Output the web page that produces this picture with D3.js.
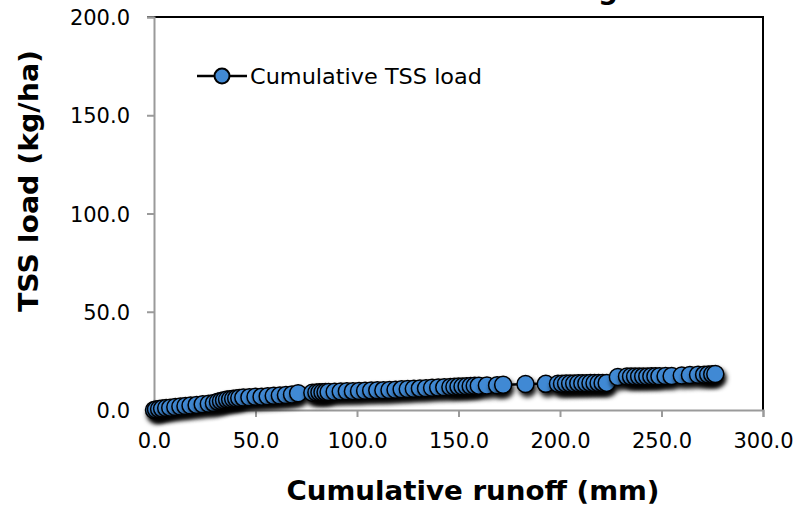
<!DOCTYPE html>
<html><head><meta charset="utf-8">
<script src="https://cdn.jsdelivr.net/npm/d3@7"></script>
<style>body{margin:0;background:#fff}svg{display:block}</style>
</head><body>
<script>
// Data: cumulative runoff (mm) and cumulative TSS load (kg/ha)
const runoff = [0,1,2.5,4,6,8,10.5,13,15.5,18,21,24,27,29.5,
  31.5,33,34.5,36,37.5,39,40.5,42,44,
  47,50,53,56,59,62,65,68,71,
  78,80,81.5,83,84.5,86,
  89,92,95,98,101,104,107,110,113,116,119,122,125,
  128,131,134,137,140,143,
  146,148,150,152,154,156,158,160,
  164,169,172,183,193,
  199,201,203,205,207,209,211,213,215,217,219,221,223,
  228.5,
  233,235,237,239,241,243,245,247,249,252,255,
  260,264,268,271,273,275,276.5];
const tssLoad = [0,0.3,0.5,0.7,1.0,1.2,1.5,1.8,2.0,2.3,2.6,2.9,3.2,3.5,
  4.2,4.6,5.0,5.3,5.5,5.7,5.9,6.1,6.3,
  6.5,6.7,6.8,7.0,7.2,7.4,7.6,7.9,8.5,
  8.8,8.9,9.0,9.0,9.1,9.2,
  9.3,9.4,9.5,9.6,9.7,9.8,9.9,10.0,10.1,10.2,10.3,10.5,10.7,
  10.8,11.0,11.1,11.3,11.4,11.6,
  11.7,11.8,11.9,12.0,12.1,12.2,12.3,12.4,
  12.5,12.6,12.8,13.2,13.3,
  13.4,13.4,13.5,13.5,13.5,13.6,13.6,13.6,13.7,13.7,13.7,13.8,13.8,
  16.8,
  17.0,17.0,17.0,17.1,17.1,17.1,17.2,17.2,17.2,17.3,17.3,
  17.6,17.8,17.9,18.0,18.1,18.2,18.3];
const xTicks = [0,50,100,150,200,250,300];
const yTicks = [0,50,100,150,200];
const seriesName = "Cumulative TSS load";
const titleText = "Cumulative TSS loading";
const xTitle = "Cumulative runoff (mm)";
const yTitle = "TSS load (kg/ha)";

const W = 797, H = 508;
const L = 154, R = 763, T = 17, B = 410;
const svg = d3.select("body").append("svg").attr("width", W).attr("height", H);
const defs = svg.append("defs");
const f = defs.append("filter").attr("id","sh").attr("x","-60%").attr("y","-60%").attr("width","220%").attr("height","220%");
f.append("feDropShadow").attr("dx",2).attr("dy",4).attr("stdDeviation",2.6).attr("flood-color","#000").attr("flood-opacity",0.95);

const x = d3.scaleLinear().domain([0,300]).range([L,R]);
const y = d3.scaleLinear().domain([0,200]).range([B,T]);
const font = "'DejaVu Sans', Verdana, sans-serif";
const fmt = d3.format(".1f");

// top and right border
svg.append("line").attr("x1",L-7).attr("x2",R+1).attr("y1",T).attr("y2",T).attr("stroke","#000").attr("stroke-width",2);
svg.append("line").attr("x1",R).attr("x2",R).attr("y1",T).attr("y2",B).attr("stroke","#000").attr("stroke-width",2);

// axes
const ya = svg.append("g").attr("transform",`translate(${L},0)`)
  .call(d3.axisLeft(y).tickValues(yTicks).tickFormat(fmt).tickSize(7).tickPadding(17));
const xa = svg.append("g").attr("transform",`translate(0,${B})`)
  .call(d3.axisBottom(x).tickValues(xTicks).tickFormat(fmt).tickSize(7).tickPadding(11));
[ya,xa].forEach(g=>{
  g.select(".domain").attr("stroke","#9a9a9a").attr("stroke-width",2);
  g.selectAll(".tick line").attr("stroke","#9a9a9a").attr("stroke-width",2);
  g.selectAll("text").attr("font-family",font).attr("font-size",21).attr("fill","#000");
});
ya.selectAll("text").attr("dy","0.36em");
xa.selectAll("text").attr("dy","0.95em");

// title (mostly cut off at the top, as in the reference)
svg.append("text").attr("x",618).attr("y",-1).attr("text-anchor","end")
  .attr("font-family",font).attr("font-weight","bold").attr("font-size",28).text(titleText);

// axis titles
svg.append("text").attr("x",473).attr("y",500).attr("text-anchor","middle")
  .attr("font-family",font).attr("font-weight","bold").attr("font-size",27)
  .attr("textLength",373).attr("lengthAdjust","spacingAndGlyphs").text(xTitle);
svg.append("text").attr("transform","translate(38,181) rotate(-90)").attr("text-anchor","middle")
  .attr("font-family",font).attr("font-weight","bold").attr("font-size",27)
  .attr("textLength",262).attr("lengthAdjust","spacingAndGlyphs").text(yTitle);

// series
const pts = runoff.map((r,i)=>[r,tssLoad[i]]);
const blue = "#4189d4";
svg.append("path").datum(pts).attr("fill","none").attr("stroke","#000").attr("stroke-width",2.5)
  .attr("d", d3.line().x(d=>x(d[0])).y(d=>y(d[1])));
svg.append("g").selectAll("circle").data(pts).join("circle")
  .attr("cx",d=>x(d[0])).attr("cy",d=>y(d[1])).attr("r",8.5)
  .attr("fill",blue).attr("stroke","#000").attr("stroke-width",1.5).attr("filter","url(#sh)");

// legend
const lg = svg.append("g");
lg.append("line").attr("x1",197).attr("x2",247).attr("y1",76).attr("y2",76).attr("stroke","#000").attr("stroke-width",2.5);
lg.append("circle").attr("cx",222).attr("cy",76).attr("r",7.5).attr("fill",blue).attr("stroke","#000").attr("stroke-width",2);
lg.append("text").attr("x",250).attr("y",84).attr("font-family",font).attr("font-size",22)
  .attr("textLength",232).attr("lengthAdjust","spacingAndGlyphs").text(seriesName);
</script>
</body></html>
